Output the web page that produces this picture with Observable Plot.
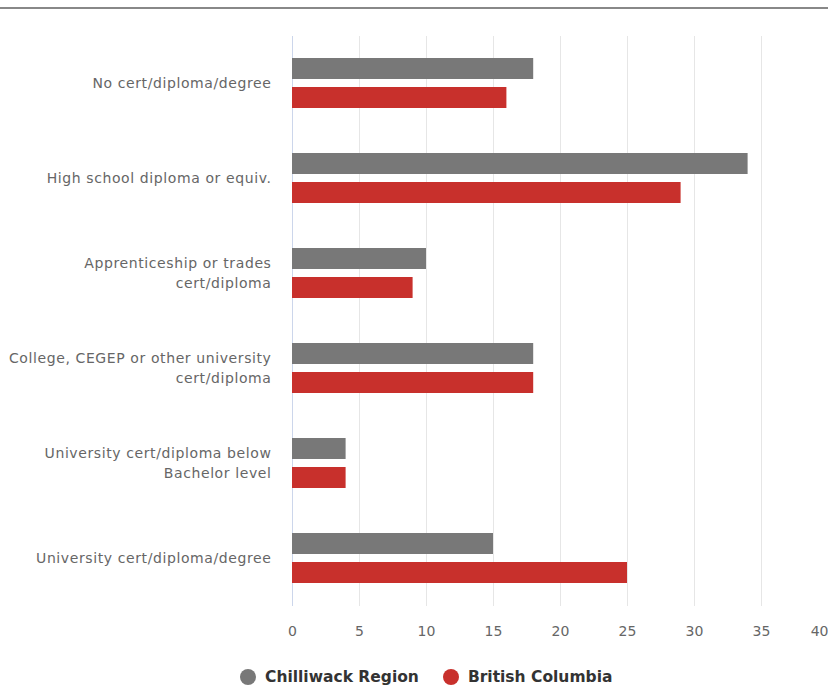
<!DOCTYPE html>
<html>
<head>
<meta charset="utf-8">
<script src="https://cdn.jsdelivr.net/npm/d3@7"></script>
<script src="https://cdn.jsdelivr.net/npm/@observablehq/plot@0.6"></script>
<style>
  body { margin: 0; background: white; font-family: "DejaVu Sans", sans-serif; }
  #wrap { position: relative; width: 828px; height: 685px; overflow: hidden; }
  #topline { position: absolute; left: 0; top: 7px; width: 828px; height: 2px; background: #888; }
  #chart { position: absolute; left: 0; top: 0; }
  #legend { position: absolute; left: 240px; top: 668px; display: flex; align-items: center; font-weight: bold; font-size: 15.5px; color: #333; white-space: nowrap; }
  .item { display: flex; align-items: center; margin-right: 24px; }
  .dot { width: 16px; height: 16px; border-radius: 50%; margin-right: 9px; }
</style>
</head>
<body>
<div id="wrap">
  <div id="chart"></div>
  <div id="topline"></div>
  <div id="legend"></div>
</div>
<script>
const categories = [
  "No cert/diploma/degree",
  "High school diploma or equiv.",
  "Apprenticeship or trades cert/diploma",
  "College, CEGEP or other university cert/diploma",
  "University cert/diploma below Bachelor level",
  "University cert/diploma/degree"
];
const categoryLabels = [
  "No cert/diploma/degree",
  "High school diploma or equiv.",
  "Apprenticeship or trades\ncert/diploma",
  "College, CEGEP or other university\ncert/diploma",
  "University cert/diploma below\nBachelor level",
  "University cert/diploma/degree"
];
const series = ["Chilliwack Region", "British Columbia"];
const chilliwack = [18, 34, 10, 18, 4, 15];
const britishColumbia = [16, 29, 9, 18, 4, 25];
const xTicks = [0, 5, 10, 15, 20, 25, 30, 35, 40];
const colors = ["#787878", "#c8302c"];

const data = categories.flatMap((c, i) => [
  {category: c, label: categoryLabels[i], series: series[0], value: chilliwack[i]},
  {category: c, label: categoryLabels[i], series: series[1], value: britishColumbia[i]}
]);

const chart = Plot.plot({
  width: 828,
  height: 650,
  marginTop: 35,
  marginBottom: 43,
  marginLeft: 292,
  marginRight: 0,
  style: {fontFamily: "DejaVu Sans", fontSize: "14px", color: "#666", background: "transparent", overflow: "visible"},
  x: {domain: [0, 40], ticks: xTicks, label: null, tickSize: 0, tickPadding: 20},
  y: {domain: series, axis: null, paddingInner: 0.27, paddingOuter: 0.72},
  fy: {domain: categories, axis: null, padding: 0},
  color: {domain: series, range: colors},
  facet: {data, y: "category"},
  marks: [
    Plot.gridX(xTicks, {stroke: "#e6e6e6", strokeOpacity: 1}),
    Plot.ruleX([0], {stroke: "#ccd6eb", strokeOpacity: 1}),
    Plot.barX(data, {x: "value", y: "series", fill: "series"}),
    Plot.text(data, {
      filter: d => d.series === series[0],
      text: "label",
      frameAnchor: "left",
      textAnchor: "end",
      dx: -21,
      dy: -2,
      lineHeight: 1.42,
      fill: "#666",
      fontSize: 14
    })
  ]
});
document.getElementById("chart").appendChild(chart);

// wider letter spacing for category labels, as in the reference
d3.select(chart).selectAll("g[aria-label='text'] text").style("letter-spacing", "0.6px");

// keep the last tick label inside the chart edge, as in the reference
d3.select(chart).selectAll("g[aria-label^='x-axis'] text")
  .filter(function() { return this.textContent === "40"; })
  .attr("text-anchor", "end");

const legend = document.getElementById("legend");
series.forEach((s, i) => {
  const item = document.createElement("div");
  item.className = "item";
  const dot = document.createElement("span");
  dot.className = "dot";
  dot.style.background = colors[i];
  const label = document.createElement("span");
  label.textContent = s;
  item.appendChild(dot);
  item.appendChild(label);
  legend.appendChild(item);
});
</script>
</body>
</html>
